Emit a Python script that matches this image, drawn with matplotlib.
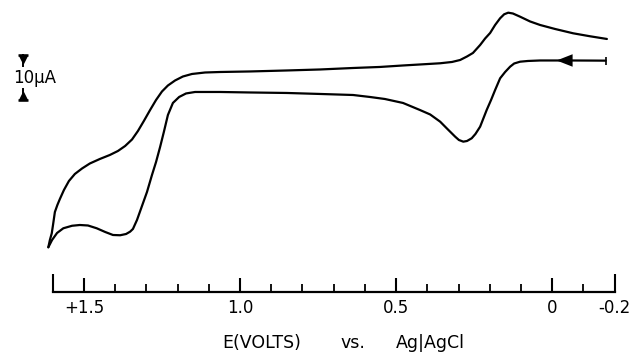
import matplotlib
matplotlib.use("Agg")
import matplotlib.pyplot as plt
from matplotlib.ticker import FixedLocator

# ---- data: potential (V vs Ag|AgCl), current (uA) ----
# first sweep, -0.2 V -> +1.6 V
fwd_E = [-0.171, -0.121, -0.060, -0.012, 0.039, 0.078, 0.103, 0.122, 0.135, 0.151,
         0.167, 0.183, 0.196, 0.210, 0.231, 0.246, 0.258, 0.273, 0.285, 0.299,
         0.311, 0.338, 0.359, 0.391, 0.424, 0.478, 0.536, 0.584, 0.638, 0.744,
         0.850, 0.968, 1.064, 1.144, 1.173, 1.195, 1.215, 1.231, 1.244, 1.256,
         1.269, 1.282, 1.298, 1.314, 1.330, 1.343, 1.352, 1.365, 1.384, 1.407,
         1.432, 1.459, 1.487, 1.513, 1.538, 1.566, 1.586, 1.602, 1.614]
fwd_i = [-0.04, -0.02, 0.0, 0.0, 0.0, -0.11, -0.27, -0.67, -1.38, -2.56,
         -3.96, -6.56, -8.78, -11.0, -14.71, -16.33, -17.29, -17.89, -18.04, -17.67,
         -16.93, -15.07, -13.60, -12.0, -11.0, -9.44, -8.56, -8.11, -7.67, -7.44,
         -7.22, -7.11, -7.0, -7.0, -7.33, -8.11, -9.44, -12.11, -15.89, -19.22,
         -22.56, -25.44, -29.22, -32.33, -35.44, -37.44, -38.04, -38.56, -38.84, -38.78,
         -38.11, -37.29, -36.67, -36.56, -36.73, -37.29, -38.33, -39.89, -41.51]

# return sweep, +1.6 V -> -0.2 V
rev_E = [1.614, 1.609, 1.603, 1.599, 1.593, 1.585, 1.577, 1.564, 1.548, 1.529,
         1.506, 1.481, 1.449, 1.417, 1.391, 1.368, 1.346, 1.327, 1.308, 1.288,
         1.269, 1.250, 1.231, 1.208, 1.183, 1.154, 1.112, 1.064, 0.968, 0.850,
         0.744, 0.638, 0.552, 0.478, 0.407, 0.359, 0.321, 0.295, 0.273, 0.254,
         0.231, 0.215, 0.199, 0.183, 0.167, 0.154, 0.141, 0.126, 0.103, 0.071,
         0.039, -0.009, -0.067, -0.121, -0.175]
rev_i = [-41.51, -39.89, -38.40, -36.56, -33.67, -32.11, -30.78, -28.78, -26.78, -25.22,
         -24.0, -22.89, -21.89, -21.0, -20.11, -19.0, -17.56, -15.67, -13.44, -11.0,
         -8.78, -6.89, -5.56, -4.44, -3.56, -3.0, -2.67, -2.56, -2.44, -2.22,
         -2.0, -1.67, -1.44, -1.11, -0.82, -0.62, -0.33, 0.11, 0.89, 1.67,
         3.44, 4.89, 6.11, 7.89, 9.38, 10.27, 10.62, 10.44, 9.73, 8.67,
         7.89, 7.0, 6.04, 5.38, 4.78]

major_ticks = [1.6, 1.5, 1.0, 0.5, 0.0, -0.2]
major_labels = ["", "+1.5", "1.0", "0.5", "0", "-0.2"]
minor_ticks = [1.4, 1.3, 1.2, 1.1, 0.9, 0.8, 0.7, 0.6, 0.4, 0.3, 0.2, 0.1, -0.1]

scale_uA = 10.0          # length of the current scale bar
scale_E = 1.694          # where the scale bar sits
scale_top = 1.2
arrow_tip_E, arrow_tail_E = -0.014, -0.064

# -------------------------------------------
fig = plt.figure(figsize=(6.33, 3.59), dpi=100)
ax = fig.add_axes([0.08325, 0.1875, 0.88784, 0.8125])
ax.set_xlim(1.6, -0.2)
ax.set_ylim(-51.38, 13.44)

for s in ["left", "right", "top"]:
    ax.spines[s].set_visible(False)
ax.spines["bottom"].set_linewidth(1.6)
ax.set_yticks([])

ax.xaxis.set_major_locator(FixedLocator(major_ticks))
ax.set_xticklabels(major_labels)
ax.xaxis.set_minor_locator(FixedLocator(minor_ticks))
ax.tick_params(axis="x", which="major", direction="in", length=10.3, width=1.5,
               pad=5, labelsize=12)
ax.tick_params(axis="x", which="minor", direction="in", length=5.5, width=1.3)
ticks = ax.xaxis.get_major_ticks()
ticks[0].tick1line.set_markersize(13)
ticks[-1].tick1line.set_markersize(13)

# the voltammogram
ax.plot(fwd_E, fwd_i, color="black", lw=1.6, clip_on=False, solid_capstyle="round")
ax.plot(rev_E, rev_i, color="black", lw=1.6, clip_on=False, solid_capstyle="round")

# start mark and sweep direction arrow
ax.plot([fwd_E[0]], [fwd_i[0]], marker="|", color="black", ms=5.5, mew=1.2)
ax.annotate("", xy=(arrow_tip_E, fwd_i[3]), xytext=(arrow_tail_E, fwd_i[2]),
            arrowprops=dict(arrowstyle="-|>,head_length=1.15,head_width=0.45",
                            color="black", lw=0, shrinkA=0, shrinkB=0,
                            mutation_scale=10))

# 10 uA scale marker: end bars with small wedges and stems
bot = scale_top - scale_uA
ax.plot([scale_E, scale_E], [scale_top, bot], ls="none", marker="_", ms=6.5,
        mew=1.8, color="black", clip_on=False)
ax.plot([scale_E, scale_E], [scale_top, scale_top - 2.4], color="black", lw=1.4,
        clip_on=False)
ax.plot([scale_E, scale_E], [bot, bot + 2.4], color="black", lw=1.4, clip_on=False)
ax.plot([scale_E], [scale_top - 0.9], marker="v", ms=5.5, color="black", clip_on=False)
ax.plot([scale_E], [bot + 0.9], marker="^", ms=5.5, color="black", clip_on=False)
ax.text(1.726, (scale_top + bot) / 2, "10\u03bcA", fontsize=12, ha="left", va="center")

# axis title, spaced out like the original lettering
fig.text(261.5 / 633, 1 - 343 / 359, "E(VOLTS)", fontsize=12.5, ha="center", va="center")
fig.text(353 / 633, 1 - 343 / 359, "vs.", fontsize=12.5, ha="center", va="center")
fig.text(430.5 / 633, 1 - 343 / 359, "Ag|AgCl", fontsize=12.5, ha="center", va="center")

fig.savefig("out.png", dpi=100)
